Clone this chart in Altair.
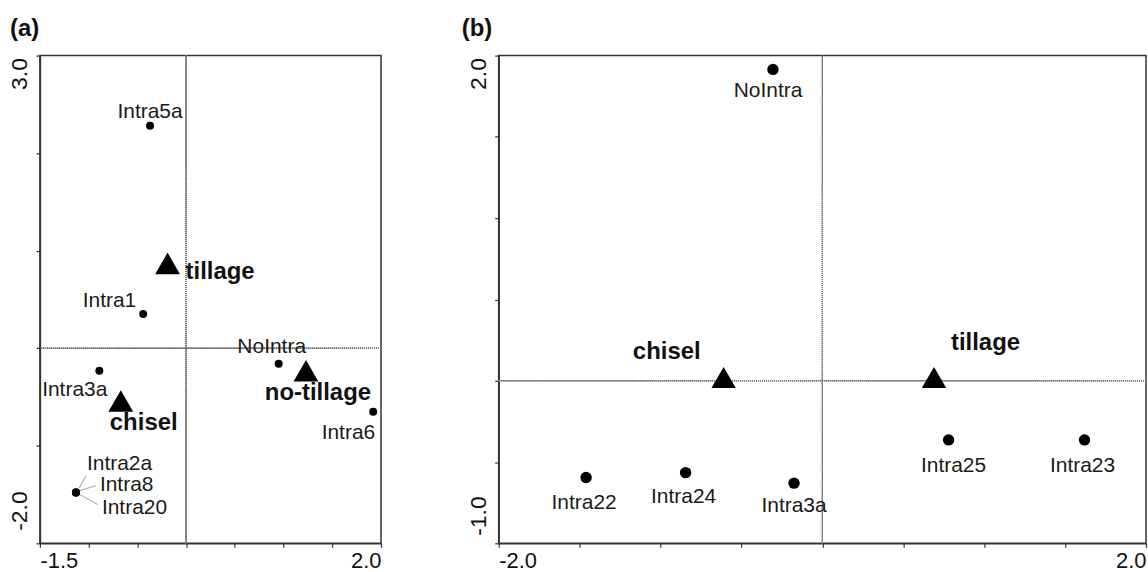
import altair as alt
import pandas as pd

FONT = "Liberation Sans"

# ---------------- Panel (a) data ----------------
a_species = ["Intra5a", "Intra1", "NoIntra", "Intra6", "Intra3a", "Intra2a", "Intra8", "Intra20"]
a_sp_x = [-0.37, -0.44, 0.95, 1.92, -0.89, -1.13, -1.13, -1.13]
a_sp_y = [2.28, 0.35, -0.16, -0.65, -0.23, -1.48, -1.48, -1.48]
a_env = ["tillage", "no-tillage", "chisel"]
a_env_x = [-0.19, 1.23, -0.67]
a_env_y = [0.87, -0.23, -0.54]
a_xticks = [-1.5, -1.0, -0.5, 0.0, 0.5, 1.0, 1.5, 2.0]
a_yticks = [-2.0, -1.0, 0.0, 1.0, 2.0, 3.0]

# ---------------- Panel (b) data ----------------
b_species = ["NoIntra", "Intra22", "Intra24", "Intra3a", "Intra25", "Intra23"]
b_sp_x = [-0.305, -1.46, -0.845, -0.175, 0.78, 1.62]
b_sp_y = [1.915, -0.595, -0.565, -0.63, -0.364, -0.364]
b_env = ["chisel", "tillage"]
b_env_x = [-0.61, 0.69]
b_env_y = [0.02, 0.02]
b_xticks = [-2.0, -1.5, -1.0, -0.5, 0.0, 0.5, 1.0, 1.5, 2.0]
b_yticks = [-1.0, -0.5, 0.0, 0.5, 1.0, 1.5, 2.0]

# label placement (pixel offsets from the symbol; dx, dy, align)
a_sp_lab = {
    "Intra5a": (0, -8, "center"),
    "Intra1": (-7, -7, "right"),
    "NoIntra": (-7, -11, "center"),
    "Intra6": (2, 27, "right"),
    "Intra3a": (8, 25, "right"),
    "Intra2a": (11, -23, "left"),
    "Intra8": (24, -2, "left"),
    "Intra20": (26, 21, "left"),
}
a_env_lab = {
    "tillage": (18, 16, "left"),
    "no-tillage": (12, 29, "center"),
    "chisel": (-11, 29, "left"),
}
b_sp_lab = {
    "NoIntra": (-5, 28, "center"),
    "Intra22": (-2, 32, "center"),
    "Intra24": (-2, 30, "center"),
    "Intra3a": (0, 29, "center"),
    "Intra25": (5, 32, "center"),
    "Intra23": (-2, 32, "center"),
}
b_env_lab = {
    "chisel": (-23, -19, "right"),
    "tillage": (17, -28, "left"),
}
# leader lines for the overlapping point (pixel offsets: start, end)
a_leaders = {
    "Intra2a": ((3, -4), (10, -17)),
    "Intra8": ((4, -2), (20, -7)),
    "Intra20": ((4, 2), (22, 12)),
}


def fmt_expr(lo, hi):
    return (f"(datum.value == {lo} || datum.value == {hi}) ? "
            "((datum.value < 0 ? '-' : '') + format(abs(datum.value), '.1f')) : ''")


def panel(title, title_dx, ylab_low_off, sp, sx, sy, env, ex, ey, xt, yt, width, height,
          sp_lab, env_lab, sp_size, tri_size, leaders=None):
    sp_df = pd.DataFrame({"name": sp, "x": sx, "y": sy})
    env_df = pd.DataFrame({"name": env, "x": ex, "y": ey})
    xs = alt.Scale(domain=[xt[0], xt[-1]], nice=False, zero=False)
    ys = alt.Scale(domain=[yt[0], yt[-1]], nice=False, zero=False)
    xaxis = alt.Axis(values=xt, labelExpr=fmt_expr(xt[0], xt[-1]), title=None,
                     grid=False, labelFlush=True, labelOverlap=False,
                     labelFontSize=22, labelFont=FONT, labelColor="#111",
                     tickSize=4, labelPadding=3, labelBound=False)
    yaxis = alt.Axis(values=yt, labelExpr=fmt_expr(yt[0], yt[-1]), title=None,
                     grid=False, labelFlush=False, labelOverlap=False,
                     labelAngle=270,
                     labelAlign={"condition": {"test": "datum.value > 0", "value": "right"},
                                 "value": "left"},
                     labelBaseline="alphabetic",
                     labelOffset={"condition": {"test": "datum.value > 0", "value": 2},
                                  "value": ylab_low_off},
                     labelFontSize=23, labelFont=FONT, labelColor="#111",
                     tickSize=4, labelPadding=9, labelBound=False)
    X = alt.X("x:Q", scale=xs, axis=xaxis)
    Y = alt.Y("y:Q", scale=ys, axis=yaxis)

    layers = []
    # zero reference lines
    layers.append(alt.Chart(sp_df).mark_rule(color="#777", strokeWidth=1, strokeDash=[1, 1])
                  .encode(x=alt.XDatum(0, scale=xs, axis=xaxis)))
    layers.append(alt.Chart(sp_df).mark_rule(color="#777", strokeWidth=1, strokeDash=[1, 1])
                  .encode(y=alt.YDatum(0, scale=ys, axis=yaxis)))

    if leaders:
        ppx = width / (xt[-1] - xt[0])
        ppy = height / (yt[-1] - yt[0])
        for nm, ((sx0, sy0), (ex0, ey0)) in leaders.items():
            layers.append(
                alt.Chart(sp_df).transform_filter(alt.datum.name == nm)
                .transform_calculate(
                    x1=f"datum.x + {sx0 / ppx}", y1=f"datum.y - {sy0 / ppy}",
                    x2=f"datum.x + {ex0 / ppx}", y2=f"datum.y - {ey0 / ppy}")
                .mark_rule(color="#888", strokeWidth=0.8)
                .encode(x=alt.X("x1:Q", scale=xs, axis=xaxis),
                        y=alt.Y("y1:Q", scale=ys, axis=yaxis),
                        x2="x2:Q", y2="y2:Q"))

    layers.append(alt.Chart(sp_df).mark_point(filled=True, shape="circle", size=sp_size,
                                              color="black", opacity=1)
                  .encode(x=X, y=Y))
    layers.append(alt.Chart(env_df).mark_point(filled=True, shape="triangle-up", size=tri_size,
                                               color="black", opacity=1)
                  .encode(x=X, y=Y))
    for nm, (dx, dy, al) in sp_lab.items():
        layers.append(alt.Chart(sp_df).transform_filter(alt.datum.name == nm)
                      .mark_text(dx=dx, dy=dy, align=al, baseline="alphabetic",
                                 font=FONT, fontSize=21, color="#1a1a1a")
                      .encode(x=X, y=Y, text="name:N"))
    for nm, (dx, dy, al) in env_lab.items():
        layers.append(alt.Chart(env_df).transform_filter(alt.datum.name == nm)
                      .mark_text(dx=dx, dy=dy, align=al, baseline="alphabetic",
                                 font=FONT, fontSize=24, fontWeight="bold", color="#111")
                      .encode(x=X, y=Y, text="name:N"))

    return alt.layer(*layers).properties(
        width=width, height=height,
        title=alt.TitleParams(title, anchor="start", frame="bounds", fontSize=24,
                              fontWeight="bold", font=FONT, color="#111", offset=14,
                              dx=title_dx))


pa = panel("(a)", 1, -13, a_species, a_sp_x, a_sp_y, a_env, a_env_x, a_env_y, a_xticks, a_yticks,
           342, 489, a_sp_lab, a_env_lab, 64, 620, leaders=a_leaders)
pb = panel("(b)", -6, -8, b_species, b_sp_x, b_sp_y, b_env, b_env_x, b_env_y, b_xticks, b_yticks,
           649, 489, b_sp_lab, b_env_lab, 130, 600)

chart = alt.hconcat(pa, pb, spacing=78).properties(
    padding={"left": 8, "top": 15, "right": 0, "bottom": 0},
    background="white",
).configure_view(stroke="#333", strokeWidth=1.5).configure_axis(
    domainColor="#333", domainWidth=1.5, tickColor="#333", tickWidth=1.2
)

chart.save("out.html", embed_options={"renderer": "svg", "actions": False})
